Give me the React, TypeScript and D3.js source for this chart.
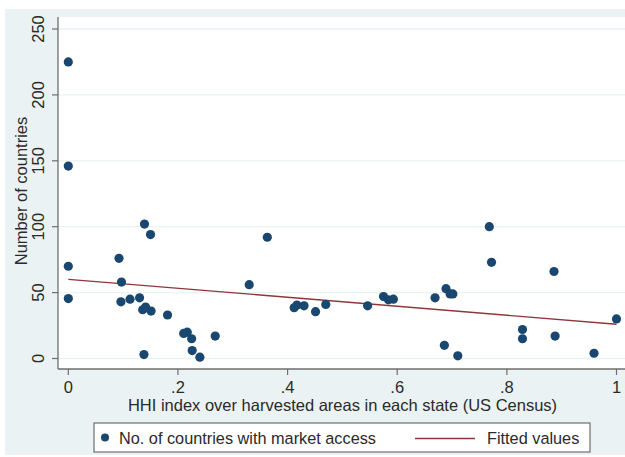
import React from "react";
import * as d3 from "d3";

const hhi = [0, 0, 0, 0, 0.0925, 0.097, 0.096, 0.1126, 0.13, 0.1357, 0.141, 0.151, 0.139, 0.15, 0.181, 0.2105, 0.217, 0.225, 0.226, 0.24, 0.268, 0.138,
  0.33, 0.363, 0.412, 0.417, 0.43, 0.451, 0.4697, 0.546,
  0.575, 0.584, 0.593, 0.669, 0.689, 0.6965, 0.7015, 0.686, 0.7105, 0.768, 0.772, 0.8285, 0.8285,
  0.886, 0.888, 0.959, 1.0];
const countries = [225, 146, 70, 45.5, 76, 58, 43, 45, 46, 37, 39, 36, 102, 94, 33, 19, 20, 15, 6, 1, 17, 3,
  56, 92, 38.5, 40.6, 40, 35.5, 41, 40,
  47, 44.5, 45, 46, 53, 49, 49, 10, 2, 100, 73, 22, 15,
  66, 17, 4, 30];
const fitX = [0, 1];
const fitY = [60.1, 26];
const xTicks = [0, 0.2, 0.4, 0.6, 0.8, 1];
const xTickLabels = ["0", ".2", ".4", ".6", ".8", "1"];
const yTicks = [0, 50, 100, 150, 200, 250];

const W = 625, H = 457;
const plotL = 58, plotT = 17, plotR = 625, plotB = 369;

export default function App() {
  const x = d3.scaleLinear().domain([0, 1]).range([68.3, 616.5]);
  const y = d3.scaleLinear().domain([0, 250]).range([358.5, 29]);
  const line = d3.line<number>().x((d, i) => x(fitX[i])).y((d, i) => y(fitY[i]));
  const font = "'Liberation Sans', Arial, Helvetica, sans-serif";
  const textCol = "#2a2a2a";
  const axisCol = "#6e6e6e";
  return (
    <svg width={W} height={H} style={{ position: "absolute", left: 0, top: 0 }} fontFamily={font}>
      <rect x={0} y={0} width={W} height={H} fill="#ffffff" />
      <rect x={5} y={9} width={W - 5} height={446} fill="#eaf2f3" />
      <rect x={plotL} y={plotT} width={plotR - plotL} height={plotB - plotT} fill="#ffffff" />
      {yTicks.map((t) => (
        <line key={"g" + t} x1={plotL} x2={plotR} y1={y(t)} y2={y(t)} stroke="#eaf2f3" strokeWidth={1.3} />
      ))}
      <line x1={plotL} x2={plotL} y1={plotT} y2={plotB} stroke={axisCol} strokeWidth={1.3} />
      <line x1={plotL} x2={plotR} y1={plotB} y2={plotB} stroke={axisCol} strokeWidth={1.3} />
      {yTicks.map((t) => (
        <g key={"y" + t}>
          <line x1={plotL - 6} x2={plotL} y1={y(t)} y2={y(t)} stroke={axisCol} strokeWidth={1.2} />
          <text transform={`translate(44,${y(t)}) rotate(-90)`} textAnchor="middle" fontSize={16.5} fill={textCol}>{t}</text>
        </g>
      ))}
      {xTicks.map((t, i) => (
        <g key={"x" + t}>
          <line x1={x(t)} x2={x(t)} y1={plotB} y2={plotB + 6} stroke={axisCol} strokeWidth={1.2} />
          <text x={x(t)} y={393} textAnchor="middle" fontSize={16.5} fill={textCol}>{xTickLabels[i]}</text>
        </g>
      ))}
      <text x={(plotL + plotR) / 2 + 1} y={411} textAnchor="middle" fontSize={16.5} fill={textCol}>
        HHI index over harvested areas in each state (US Census)
      </text>
      <text transform={`translate(27,${(plotT + plotB) / 2 - 2}) rotate(-90)`} textAnchor="middle" fontSize={16.5} fill={textCol}>
        Number of countries
      </text>
      <path d={line(fitY) || ""} fill="none" stroke="#90353b" strokeWidth={1.3} />
      {hhi.map((h, i) => (
        <circle key={"p" + i} cx={x(h)} cy={y(countries[i])} r={4.6} fill="#1a476f" />
      ))}
      <rect x={94} y={423} width={496} height={29} fill="#ffffff" stroke="#6e6e6e" strokeWidth={1.2} />
      <circle cx={105} cy={437.5} r={4} fill="#1a476f" />
      <text x={119} y={443.5} fontSize={16.3} fill={textCol}>No. of countries with market access</text>
      <line x1={415} x2={475} y1={438.5} y2={438.5} stroke="#90353b" strokeWidth={1.3} />
      <text x={487} y={443.5} fontSize={16.3} fill={textCol}>Fitted values</text>
    </svg>
  );
}
